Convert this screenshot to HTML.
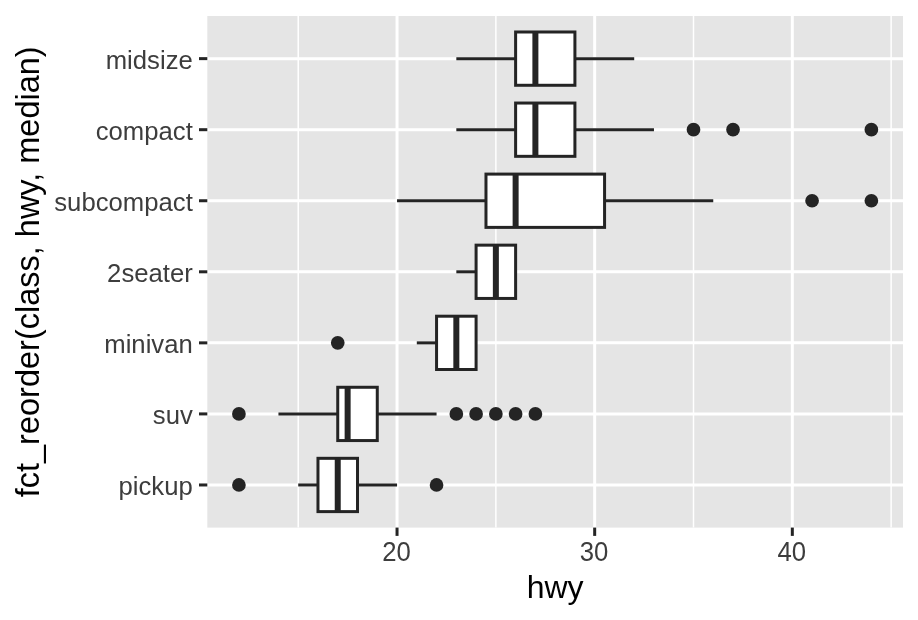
<!DOCTYPE html>
<html><head><meta charset="utf-8"><style>
html,body{margin:0;padding:0;background:#FFFFFF;width:918px;height:620px;overflow:hidden}
svg{display:block;will-change:transform;font-family:"Liberation Sans",sans-serif}
</style></head><body>
<svg width="918" height="620" viewBox="0 0 918 620">
<rect width="918" height="620" fill="#FFFFFF"/>
<rect x="207.3" y="16.0" width="695.7" height="511.6" fill="#E5E5E5"/>
<line x1="298.22" y1="16.0" x2="298.22" y2="527.6" stroke="#FFFFFF" stroke-width="1.5"/>
<line x1="495.86" y1="16.0" x2="495.86" y2="527.6" stroke="#FFFFFF" stroke-width="1.5"/>
<line x1="693.50" y1="16.0" x2="693.50" y2="527.6" stroke="#FFFFFF" stroke-width="1.5"/>
<line x1="891.14" y1="16.0" x2="891.14" y2="527.6" stroke="#FFFFFF" stroke-width="1.5"/>
<line x1="397.04" y1="16.0" x2="397.04" y2="527.6" stroke="#FFFFFF" stroke-width="3.0"/>
<line x1="594.68" y1="16.0" x2="594.68" y2="527.6" stroke="#FFFFFF" stroke-width="3.0"/>
<line x1="792.32" y1="16.0" x2="792.32" y2="527.6" stroke="#FFFFFF" stroke-width="3.0"/>
<line x1="207.3" y1="484.97" x2="903.0" y2="484.97" stroke="#FFFFFF" stroke-width="3.0"/>
<line x1="207.3" y1="413.91" x2="903.0" y2="413.91" stroke="#FFFFFF" stroke-width="3.0"/>
<line x1="207.3" y1="342.86" x2="903.0" y2="342.86" stroke="#FFFFFF" stroke-width="3.0"/>
<line x1="207.3" y1="271.80" x2="903.0" y2="271.80" stroke="#FFFFFF" stroke-width="3.0"/>
<line x1="207.3" y1="200.74" x2="903.0" y2="200.74" stroke="#FFFFFF" stroke-width="3.0"/>
<line x1="207.3" y1="129.69" x2="903.0" y2="129.69" stroke="#FFFFFF" stroke-width="3.0"/>
<line x1="207.3" y1="58.63" x2="903.0" y2="58.63" stroke="#FFFFFF" stroke-width="3.0"/>
<line x1="298.22" y1="484.97" x2="317.98" y2="484.97" stroke="#242424" stroke-width="3.0"/>
<line x1="357.51" y1="484.97" x2="397.04" y2="484.97" stroke="#242424" stroke-width="3.0"/>
<rect x="317.98" y="458.32" width="39.53" height="53.29" fill="#FFFFFF" stroke="#242424" stroke-width="3.0"/>
<line x1="337.74" y1="458.32" x2="337.74" y2="511.61" stroke="#242424" stroke-width="6.0"/>
<circle cx="238.92" cy="484.97" r="6.85" fill="#242424"/>
<circle cx="436.56" cy="484.97" r="6.85" fill="#242424"/>
<line x1="199.00" y1="484.97" x2="207.3" y2="484.97" stroke="#242424" stroke-width="3.0"/>
<text transform="translate(192.80 494.97) scale(0.97 1)" text-anchor="end" font-size="26.5" fill="#3D3D3D">pickup</text>
<line x1="278.45" y1="413.91" x2="337.74" y2="413.91" stroke="#242424" stroke-width="3.0"/>
<line x1="377.27" y1="413.91" x2="436.56" y2="413.91" stroke="#242424" stroke-width="3.0"/>
<rect x="337.74" y="387.27" width="39.53" height="53.29" fill="#FFFFFF" stroke="#242424" stroke-width="3.0"/>
<line x1="347.63" y1="387.27" x2="347.63" y2="440.56" stroke="#242424" stroke-width="6.0"/>
<circle cx="238.92" cy="413.91" r="6.85" fill="#242424"/>
<circle cx="456.33" cy="413.91" r="6.85" fill="#242424"/>
<circle cx="476.09" cy="413.91" r="6.85" fill="#242424"/>
<circle cx="495.86" cy="413.91" r="6.85" fill="#242424"/>
<circle cx="515.62" cy="413.91" r="6.85" fill="#242424"/>
<circle cx="535.39" cy="413.91" r="6.85" fill="#242424"/>
<line x1="199.00" y1="413.91" x2="207.3" y2="413.91" stroke="#242424" stroke-width="3.0"/>
<text transform="translate(192.80 423.91) scale(0.97 1)" text-anchor="end" font-size="26.5" fill="#3D3D3D">suv</text>
<line x1="416.80" y1="342.86" x2="436.56" y2="342.86" stroke="#242424" stroke-width="3.0"/>
<line x1="476.09" y1="342.86" x2="476.09" y2="342.86" stroke="#242424" stroke-width="3.0"/>
<rect x="436.56" y="316.21" width="39.53" height="53.29" fill="#FFFFFF" stroke="#242424" stroke-width="3.0"/>
<line x1="456.33" y1="316.21" x2="456.33" y2="369.50" stroke="#242424" stroke-width="6.0"/>
<circle cx="337.74" cy="342.86" r="6.85" fill="#242424"/>
<line x1="199.00" y1="342.86" x2="207.3" y2="342.86" stroke="#242424" stroke-width="3.0"/>
<text transform="translate(192.80 352.86) scale(0.97 1)" text-anchor="end" font-size="26.5" fill="#3D3D3D">minivan</text>
<line x1="456.33" y1="271.80" x2="476.09" y2="271.80" stroke="#242424" stroke-width="3.0"/>
<line x1="515.62" y1="271.80" x2="515.62" y2="271.80" stroke="#242424" stroke-width="3.0"/>
<rect x="476.09" y="245.15" width="39.53" height="53.29" fill="#FFFFFF" stroke="#242424" stroke-width="3.0"/>
<line x1="495.86" y1="245.15" x2="495.86" y2="298.45" stroke="#242424" stroke-width="6.0"/>
<line x1="199.00" y1="271.80" x2="207.3" y2="271.80" stroke="#242424" stroke-width="3.0"/>
<text transform="translate(192.80 281.80) scale(0.97 1)" text-anchor="end" font-size="26.5" fill="#3D3D3D">2seater</text>
<line x1="397.04" y1="200.74" x2="485.98" y2="200.74" stroke="#242424" stroke-width="3.0"/>
<line x1="604.56" y1="200.74" x2="713.26" y2="200.74" stroke="#242424" stroke-width="3.0"/>
<rect x="485.98" y="174.10" width="118.59" height="53.29" fill="#FFFFFF" stroke="#242424" stroke-width="3.0"/>
<line x1="515.62" y1="174.10" x2="515.62" y2="227.39" stroke="#242424" stroke-width="6.0"/>
<circle cx="812.08" cy="200.74" r="6.85" fill="#242424"/>
<circle cx="871.38" cy="200.74" r="6.85" fill="#242424"/>
<line x1="199.00" y1="200.74" x2="207.3" y2="200.74" stroke="#242424" stroke-width="3.0"/>
<text transform="translate(192.80 210.74) scale(0.97 1)" text-anchor="end" font-size="26.5" fill="#3D3D3D">subcompact</text>
<line x1="456.33" y1="129.69" x2="515.62" y2="129.69" stroke="#242424" stroke-width="3.0"/>
<line x1="574.91" y1="129.69" x2="653.97" y2="129.69" stroke="#242424" stroke-width="3.0"/>
<rect x="515.62" y="103.04" width="59.29" height="53.29" fill="#FFFFFF" stroke="#242424" stroke-width="3.0"/>
<line x1="535.39" y1="103.04" x2="535.39" y2="156.33" stroke="#242424" stroke-width="6.0"/>
<circle cx="693.50" cy="129.69" r="6.85" fill="#242424"/>
<circle cx="733.03" cy="129.69" r="6.85" fill="#242424"/>
<circle cx="871.38" cy="129.69" r="6.85" fill="#242424"/>
<line x1="199.00" y1="129.69" x2="207.3" y2="129.69" stroke="#242424" stroke-width="3.0"/>
<text transform="translate(192.80 139.69) scale(0.97 1)" text-anchor="end" font-size="26.5" fill="#3D3D3D">compact</text>
<line x1="456.33" y1="58.63" x2="515.62" y2="58.63" stroke="#242424" stroke-width="3.0"/>
<line x1="574.91" y1="58.63" x2="634.21" y2="58.63" stroke="#242424" stroke-width="3.0"/>
<rect x="515.62" y="31.99" width="59.29" height="53.29" fill="#FFFFFF" stroke="#242424" stroke-width="3.0"/>
<line x1="535.39" y1="31.99" x2="535.39" y2="85.28" stroke="#242424" stroke-width="6.0"/>
<line x1="199.00" y1="58.63" x2="207.3" y2="58.63" stroke="#242424" stroke-width="3.0"/>
<text transform="translate(192.80 68.63) scale(0.97 1)" text-anchor="end" font-size="26.5" fill="#3D3D3D">midsize</text>
<line x1="397.04" y1="527.6" x2="397.04" y2="535.90" stroke="#242424" stroke-width="3.0"/>
<text transform="translate(396.44 561.00) scale(0.935 1)" text-anchor="middle" font-size="27.5" fill="#3D3D3D">20</text>
<line x1="594.68" y1="527.6" x2="594.68" y2="535.90" stroke="#242424" stroke-width="3.0"/>
<text transform="translate(594.08 561.00) scale(0.935 1)" text-anchor="middle" font-size="27.5" fill="#3D3D3D">30</text>
<line x1="792.32" y1="527.6" x2="792.32" y2="535.90" stroke="#242424" stroke-width="3.0"/>
<text transform="translate(791.72 561.00) scale(0.935 1)" text-anchor="middle" font-size="27.5" fill="#3D3D3D">40</text>
<text x="555.15" y="598" text-anchor="middle" font-size="32" fill="#000000">hwy</text>
<text transform="translate(38.6 271.80) rotate(-90)" x="0" y="0" text-anchor="middle" font-size="32.5" fill="#000000">fct_reorder(class, hwy, median)</text>
</svg></body></html>
